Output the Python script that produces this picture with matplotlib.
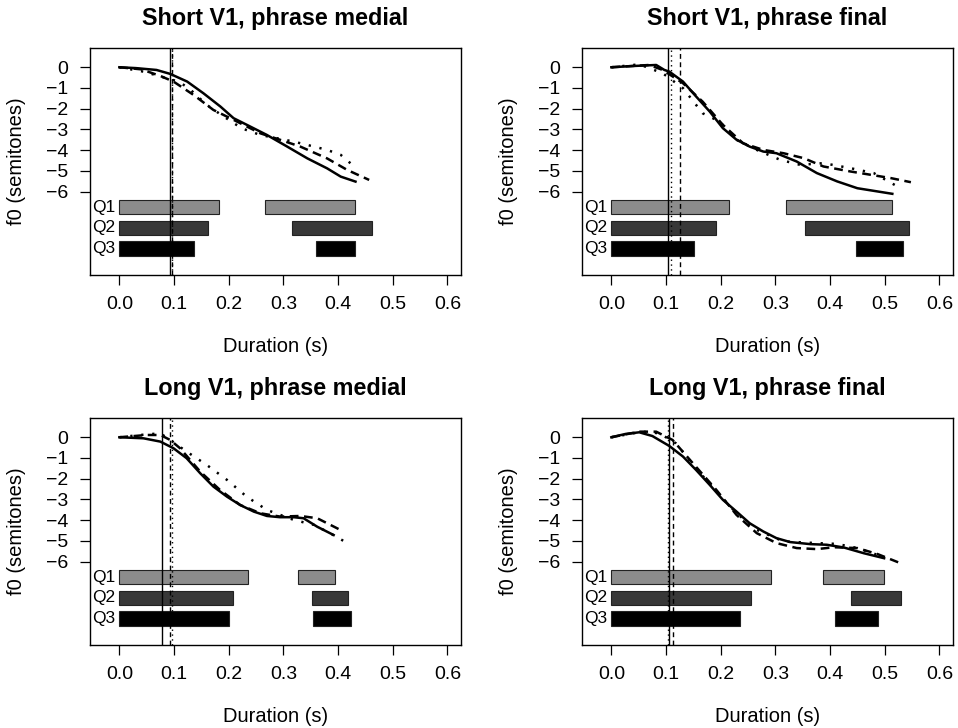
import matplotlib
matplotlib.use("Agg")
import matplotlib.pyplot as plt

plt.rcParams['font.family'] = ['Liberation Sans', 'DejaVu Sans']

titles = ["Short V1, phrase medial", "Short V1, phrase final",
          "Long V1, phrase medial", "Long V1, phrase final"]
quart_labels = ["Q1", "Q2", "Q3"]
quart_colors = ["#8c8c8c", "#383838", "#000000"]
x_ticks = [0.0, 0.1, 0.2, 0.3, 0.4, 0.5, 0.6]
y_ticks = [0, -1, -2, -3, -4, -5, -6]

# ---- Short V1, phrase medial ----
sm_solid_t = [0, 0.03, 0.068, 0.093, 0.124, 0.154, 0.185, 0.209, 0.234, 0.27, 0.307, 0.344, 0.38, 0.405, 0.432]
sm_solid_f = [0, -0.04, -0.13, -0.32, -0.69, -1.26, -1.9, -2.46, -2.79, -3.27, -3.83, -4.4, -4.88, -5.28, -5.52]
sm_dash_t = [0, 0.04, 0.075, 0.099, 0.136, 0.172, 0.209, 0.258, 0.295, 0.331, 0.38, 0.417, 0.457]
sm_dash_f = [0, -0.1, -0.42, -0.69, -1.34, -2.06, -2.54, -3.19, -3.51, -3.83, -4.4, -4.96, -5.44]
sm_dot_t = [0, 0.044, 0.108, 0.127, 0.16, 0.191, 0.224, 0.258, 0.289, 0.319, 0.356, 0.38, 0.405, 0.423]
sm_dot_f = [0, -0.21, -0.69, -1.01, -1.82, -2.38, -2.95, -3.27, -3.43, -3.59, -3.83, -3.99, -4.23, -4.64]
sm_vlines = [0.092, 0.096, 0.096]   # solid, dashed, dotted
sm_bars = [[(0, 0.182), (0.266, 0.432)],
           [(0, 0.162), (0.315, 0.463)],
           [(0, 0.137), (0.360, 0.432)]]

# ---- Short V1, phrase final ----
sf_solid_t = [0, 0.039, 0.082, 0.097, 0.106, 0.131, 0.155, 0.18, 0.204, 0.229, 0.253, 0.278, 0.302, 0.339, 0.376, 0.413, 0.45, 0.514]
sf_solid_f = [0, 0.06, 0.11, -0.13, -0.21, -0.69, -1.41, -2.14, -2.94, -3.5, -3.83, -4.07, -4.15, -4.55, -5.11, -5.51, -5.84, -6.11]
sf_dash_t = [0, 0.069, 0.094, 0.131, 0.167, 0.204, 0.241, 0.278, 0.315, 0.352, 0.388, 0.437, 0.474, 0.511, 0.548]
sf_dash_f = [0, 0.11, -0.13, -0.77, -1.66, -2.78, -3.67, -3.99, -4.15, -4.39, -4.79, -5.03, -5.19, -5.35, -5.55]
sf_dot_t = [0, 0.051, 0.094, 0.131, 0.167, 0.198, 0.229, 0.266, 0.309, 0.345, 0.388, 0.437, 0.48, 0.529]
sf_dot_f = [0, 0.14, -0.29, -1.01, -2.22, -2.62, -3.5, -3.99, -4.47, -4.71, -4.63, -4.87, -5.11, -5.84]
sf_vlines = [0.103, 0.125, 0.109]
sf_bars = [[(0, 0.215), (0.320, 0.514)],
           [(0, 0.192), (0.354, 0.545)],
           [(0, 0.152), (0.447, 0.533)]]

# ---- Long V1, phrase medial ----
lm_solid_t = [0, 0.044, 0.075, 0.099, 0.123, 0.148, 0.172, 0.197, 0.221, 0.246, 0.27, 0.294, 0.319, 0.337, 0.362, 0.392]
lm_solid_f = [0, -0.05, -0.21, -0.53, -1.01, -1.74, -2.38, -2.87, -3.27, -3.59, -3.8, -3.86, -3.86, -3.91, -4.32, -4.72]
lm_dash_t = [0, 0.05, 0.075, 0.093, 0.111, 0.148, 0.184, 0.221, 0.258, 0.294, 0.331, 0.362, 0.404]
lm_dash_f = [0, 0.11, 0.11, -0.13, -0.53, -1.66, -2.54, -3.27, -3.67, -3.83, -3.8, -3.91, -4.47]
lm_dot_t = [0, 0.038, 0.075, 0.093, 0.123, 0.16, 0.197, 0.233, 0.27, 0.319, 0.356, 0.386, 0.423]
lm_dot_f = [0, 0.11, 0.19, -0.13, -0.69, -1.34, -2.06, -2.87, -3.51, -3.99, -4.23, -4.64, -5.2]
lm_vlines = [0.078, 0.093, 0.096]
lm_bars = [[(0, 0.235), (0.326, 0.395)],
           [(0, 0.208), (0.353, 0.418)],
           [(0, 0.200), (0.355, 0.424)]]

# ---- Long V1, phrase final ----
lf_solid_t = [0, 0.026, 0.051, 0.075, 0.106, 0.131, 0.155, 0.18, 0.204, 0.229, 0.253, 0.278, 0.302, 0.327, 0.364, 0.394, 0.425, 0.462, 0.499]
lf_solid_f = [0, 0.16, 0.24, 0.06, -0.42, -0.93, -1.58, -2.3, -3.02, -3.59, -4.15, -4.55, -4.87, -5.06, -5.16, -5.19, -5.32, -5.6, -5.84]
lf_dash_t = [0, 0.051, 0.082, 0.112, 0.149, 0.192, 0.229, 0.266, 0.302, 0.339, 0.376, 0.407, 0.45, 0.487, 0.526]
lf_dash_f = [0, 0.27, 0.27, -0.13, -1.25, -2.54, -3.75, -4.63, -5.11, -5.35, -5.4, -5.31, -5.35, -5.64, -6.05]
lf_dot_t = [0, 0.057, 0.088, 0.118, 0.155, 0.192, 0.229, 0.266, 0.315, 0.376, 0.413, 0.45, 0.487]
lf_dot_f = [0, 0.27, 0.19, -0.29, -1.5, -2.62, -3.67, -4.47, -5.03, -5.11, -5.15, -5.35, -5.68]
lf_vlines = [0.105, 0.113, 0.103]
lf_bars = [[(0, 0.292), (0.388, 0.498)],
           [(0, 0.256), (0.439, 0.529)],
           [(0, 0.236), (0.410, 0.487)]]

panels = [
    (sm_solid_t, sm_solid_f, sm_dash_t, sm_dash_f, sm_dot_t, sm_dot_f, sm_vlines, sm_bars),
    (sf_solid_t, sf_solid_f, sf_dash_t, sf_dash_f, sf_dot_t, sf_dot_f, sf_vlines, sf_bars),
    (lm_solid_t, lm_solid_f, lm_dash_t, lm_dash_f, lm_dot_t, lm_dot_f, lm_vlines, lm_bars),
    (lf_solid_t, lf_solid_f, lf_dash_t, lf_dash_f, lf_dot_t, lf_dot_f, lf_vlines, lf_bars),
]

W, H = 958, 728
fig = plt.figure(figsize=(W / 100, H / 100), dpi=100)

boxes = [(90, 48), (582, 48), (90, 418), (582, 418)]
bw, bh = 371, 227
bar_y = [-6.75, -7.75, -8.75]

for i, (st, sf_, dt, df, ot, of, vl, bars) in enumerate(panels):
    x0, y0 = boxes[i]
    ax = fig.add_axes([x0 / W, 1 - (y0 + bh) / H, bw / W, bh / H])
    ax.set_xlim(-0.0537, 0.625)
    ax.set_ylim(-10.03, 0.93)

    # quartile bars
    for q in range(3):
        for (a, b) in bars[q]:
            ax.barh(bar_y[q], b - a, left=a, height=0.7, color=quart_colors[q],
                    edgecolor="#222222", linewidth=0.8, zorder=2)
        ax.text(-0.008, bar_y[q], quart_labels[q], ha="right", va="center",
                fontsize=12.5, zorder=3)

    # vertical reference lines
    ax.axvline(vl[0], color="black", lw=1.0, ls="-", zorder=4)
    ax.axvline(vl[1], color="black", lw=1.0, ls=(0, (3.5, 2.5)), zorder=4)
    ax.axvline(vl[2], color="black", lw=1.0, ls=(0, (1, 2.5)), zorder=4)

    # f0 curves
    ax.plot(st, sf_, color="black", lw=1.8, ls="-", zorder=5)
    ax.plot(dt, df, color="black", lw=1.8, ls=(0, (3.5, 2.2)), zorder=5)
    ax.plot(ot, of, color="black", lw=1.8, ls=(0, (0.9, 3.5)), zorder=5,
            dash_capstyle="butt")

    ax.set_xticks(x_ticks)
    ax.set_xticklabels(["%.1f" % v for v in x_ticks])
    ax.set_yticks(y_ticks)
    ax.set_yticklabels([str(v).replace("-", "\u2212") for v in y_ticks])
    ax.tick_params(axis="both", labelsize=14, length=7.5, width=0.9, direction="out")
    ax.tick_params(axis="x", pad=7.5)
    ax.tick_params(axis="y", pad=8)
    for sp in ax.spines.values():
        sp.set_linewidth(1.0)

    ax.set_title(titles[i], fontsize=16.8, fontweight="bold", pad=0, y=1.128, va="center")
    ax.set_xlabel("Duration (s)", fontsize=14.5)
    ax.xaxis.set_label_coords(0.5, -(346.7 - 275) / bh)
    ax.xaxis.label.set_va("center")
    ax.set_ylabel("f0 (semitones)", fontsize=14.5)
    ax.yaxis.set_label_coords((17 - 90) / bw, 0.5)
    ax.yaxis.label.set_va("center")

fig.savefig("out.png", dpi=100)
